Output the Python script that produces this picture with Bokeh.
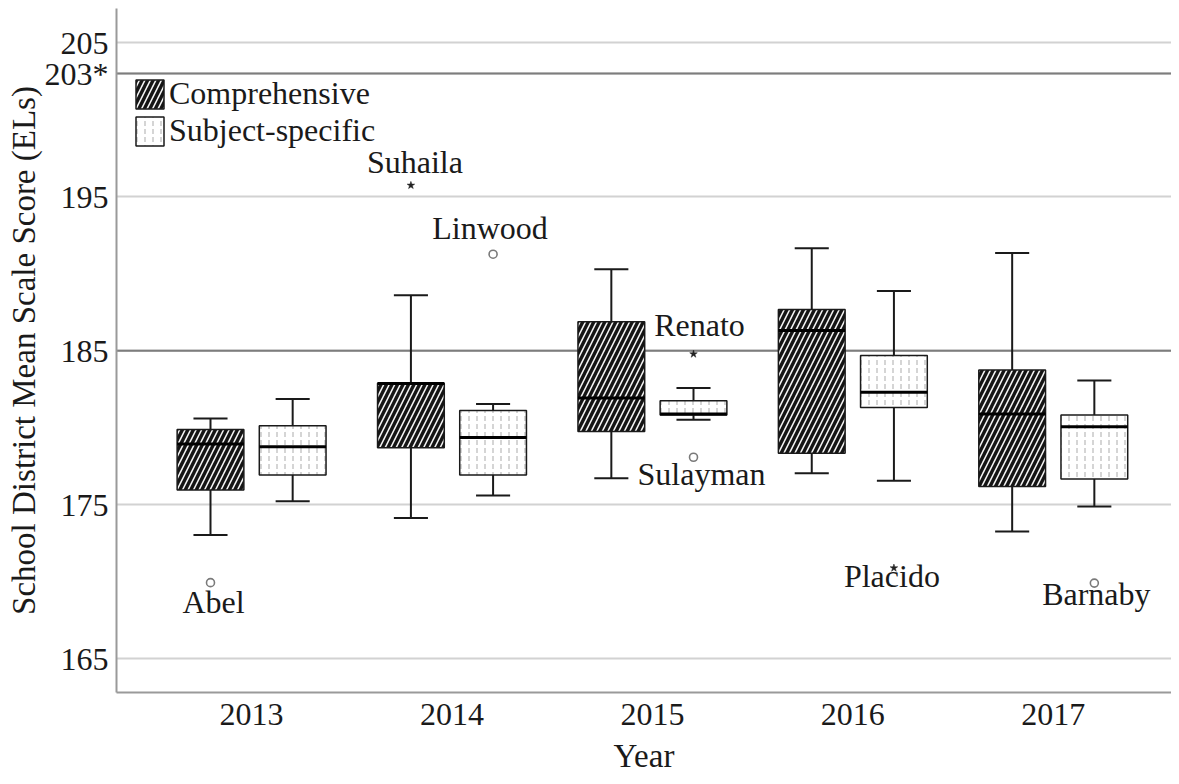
from bokeh.plotting import figure
from bokeh.models import Range1d, FixedTicker, Span, ColumnDataSource, Legend, LegendItem
from bokeh.core.properties import value
from bokeh.embed import file_html
from bokeh.resources import INLINE

# ---------------- data ----------------
years = ["2013", "2014", "2015", "2016", "2017"]
groups = ["Comprehensive", "Subject-specific"]

comp_lower = [173.05, 174.14, 176.73, 177.05, 173.27]
comp_q1 = [175.97, 178.70, 179.77, 178.35, 176.19]
comp_median = [178.95, 182.88, 181.93, 186.32, 180.90]
comp_q3 = [179.90, 182.90, 186.88, 187.68, 183.75]
comp_upper = [180.60, 188.60, 190.30, 191.65, 191.35]

subj_lower = [175.24, 175.60, 180.53, 176.57, 174.89]
subj_q1 = [176.94, 176.94, 180.83, 181.32, 176.68]
subj_median = [178.78, 179.38, 180.90, 182.31, 180.07]
subj_q3 = [180.14, 181.13, 181.76, 184.70, 180.83]
subj_upper = [181.87, 181.55, 182.58, 188.89, 183.08]

outlier_names = ["Abel", "Suhaila", "Linwood", "Renato", "Sulayman", "Placido", "Barnaby"]
outlier_years = ["2013", "2014", "2014", "2015", "2015", "2016", "2017"]
outlier_groups = ["Comprehensive", "Comprehensive", "Subject-specific", "Subject-specific",
                  "Subject-specific", "Subject-specific", "Subject-specific"]
outlier_values = [169.95, 195.74, 191.27, 184.79, 178.09, 170.90, 169.92]
outlier_kinds = ["outlier", "extreme", "outlier", "extreme", "outlier", "extreme", "outlier"]

y_ticks = [165, 175, 185, 195, 203, 205]
y_tick_labels = ["165", "175", "185", "195", "203*", "205"]
reference_lines = [185, 203]

# ---------------- styling ----------------
FONT = "Liberation Serif"
TEXT_COLOR = "#1a1a1a"
DODGE = 0.205
BOX_W = 0.333
CAP_W = 0.17
label_dx = [3, 4, -3, 6, 8, -2, 2]
label_dy = [19, -23, -26, -29, 17, 8, 11]

p = figure(width=1171, height=776, output_backend="svg", toolbar_location=None,
           x_range=Range1d(-0.674, 4.590), y_range=Range1d(162.82, 207.22),
           min_border_left=116, min_border_right=0, min_border_top=8, min_border_bottom=84)
p.outline_line_color = None
p.background_fill_color = "white"

# grid / reference lines
p.xgrid.grid_line_color = None
p.ygrid.grid_line_color = "#d2d2d2"
p.ygrid.grid_line_width = 2
for v in reference_lines:
    p.add_layout(Span(location=v, dimension="width", line_color="#7d7d7d",
                      line_width=2, level="underlay"))

# axes
p.yaxis.ticker = FixedTicker(ticks=y_ticks)
p.yaxis.major_label_overrides = {t: l for t, l in zip(y_ticks, y_tick_labels)}
p.xaxis.ticker = FixedTicker(ticks=list(range(len(years))))
p.xaxis.major_label_overrides = {i: y for i, y in enumerate(years)}
for ax in (p.xaxis[0], p.yaxis[0]):
    ax.axis_line_color = "#9a9a9a"
    ax.axis_line_width = 2
    ax.major_tick_line_color = None
    ax.minor_tick_line_color = None
    ax.major_tick_out = 0
    ax.major_tick_in = 0
    ax.major_label_text_font = FONT
    ax.major_label_text_font_size = "32px"
    ax.major_label_text_color = TEXT_COLOR
    ax.axis_label_text_font = FONT
    ax.axis_label_text_font_size = "33px"
    ax.axis_label_text_font_style = "normal"
    ax.axis_label_text_color = TEXT_COLOR
p.yaxis.axis_label = "School District Mean Scale Score (ELs)"
p.xaxis.axis_label = "Year"
p.yaxis.major_label_standoff = 8
p.yaxis.axis_label_standoff = 0
p.xaxis.major_label_standoff = 11
p.xaxis.axis_label_standoff = 10


def group_x(g):
    off = -DODGE if g == groups[0] else DODGE
    return [i + off for i in range(len(years))]


series = {
    groups[0]: (comp_lower, comp_q1, comp_median, comp_q3, comp_upper),
    groups[1]: (subj_lower, subj_q1, subj_median, subj_q3, subj_upper),
}

box_styles = {
    groups[0]: dict(fill_color="#141414", hatch_pattern="right_diagonal_line",
                    hatch_color="#f2f2f2", hatch_scale=11, hatch_weight=1.6),
    groups[1]: dict(fill_color="white", hatch_pattern="vertical_dash",
                    hatch_color="#ababab", hatch_scale=8, hatch_weight=1.0),
}

box_renderers = {}
for g in groups:
    lo, q1, med, q3, hi = series[g]
    xs = group_x(g)
    src = ColumnDataSource(dict(
        x=xs, lo=lo, q1=q1, med=med, q3=q3, hi=hi,
        xl=[x - BOX_W / 2 for x in xs], xr=[x + BOX_W / 2 for x in xs],
        cl=[x - CAP_W / 2 for x in xs], cr=[x + CAP_W / 2 for x in xs],
    ))
    p.segment(x0="x", y0="q3", x1="x", y1="hi", source=src, line_color=TEXT_COLOR, line_width=2)
    p.segment(x0="x", y0="q1", x1="x", y1="lo", source=src, line_color=TEXT_COLOR, line_width=2)
    p.segment(x0="cl", y0="hi", x1="cr", y1="hi", source=src, line_color=TEXT_COLOR, line_width=2)
    p.segment(x0="cl", y0="lo", x1="cr", y1="lo", source=src, line_color=TEXT_COLOR, line_width=2)
    r = p.vbar(x="x", width=BOX_W, top="q3", bottom="q1", source=src,
               line_color=TEXT_COLOR, line_width=1.5, **box_styles[g])
    box_renderers[g] = [r]
    p.segment(x0="xl", y0="med", x1="xr", y1="med", source=src, line_color="black", line_width=3)

# outliers
ox = [years.index(y) + (-DODGE if g == groups[0] else DODGE)
      for y, g in zip(outlier_years, outlier_groups)]
osrc = ColumnDataSource(dict(x=ox, y=outlier_values, name=outlier_names,
                             kind=outlier_kinds, dx=label_dx, dy=label_dy))
circ = ColumnDataSource(dict(x=[x for x, k in zip(ox, outlier_kinds) if k == "outlier"],
                             y=[v for v, k in zip(outlier_values, outlier_kinds) if k == "outlier"]))
star = ColumnDataSource(dict(x=[x for x, k in zip(ox, outlier_kinds) if k == "extreme"],
                             y=[v for v, k in zip(outlier_values, outlier_kinds) if k == "extreme"]))
p.scatter(x="x", y="y", source=circ, marker="circle", size=8, fill_color="white",
          line_color="#7a7a7a", line_width=1.6)
p.scatter(x="x", y="y", source=star, marker="star", size=8, fill_color="#222222",
          line_color="#222222", line_width=0.5)
p.text(x="x", y="y", text="name", source=osrc, x_offset="dx", y_offset="dy",
       text_align="center", text_baseline="alphabetic",
       text_font=value(FONT), text_font_size="32px", text_color=TEXT_COLOR)

legend = Legend(items=[LegendItem(label=g, renderers=box_renderers[g]) for g in groups],
                location=(16, 543))
legend.padding = 0
legend.margin = 0
legend.spacing = -1
legend.glyph_width = 35
legend.glyph_height = 36
legend.label_standoff = 2
legend.label_text_font = FONT
legend.label_text_font_size = "32px"
legend.label_text_color = TEXT_COLOR
legend.border_line_color = None
legend.background_fill_alpha = 0
p.add_layout(legend)

open("out.html", "w").write(file_html(p, INLINE))
